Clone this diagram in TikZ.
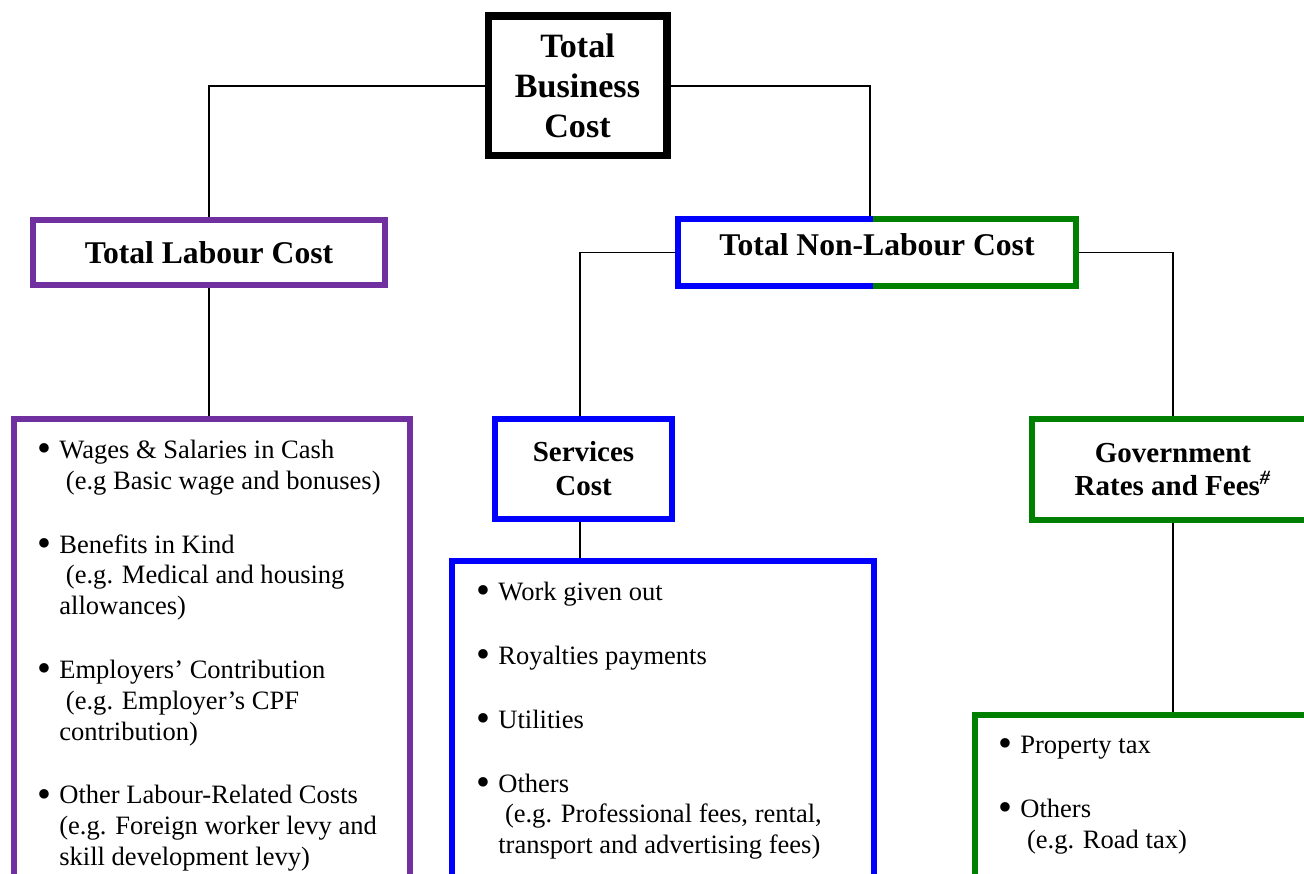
\documentclass[tikz,border=0pt]{standalone}
\usepackage{fontspec}
\usepackage{graphicx}
\setmainfont{Liberation Serif}
\usetikzlibrary{positioning}
\definecolor{labour}{RGB}{112,48,160}
\definecolor{serv}{RGB}{0,0,255}
\definecolor{govt}{RGB}{0,128,0}
\newcommand{\bul}{\makebox[12.3pt][l]{\raisebox{-0.13em}{\scalebox{1.5}{\textbullet}}}}
\newcommand{\ind}{\hspace*{12.3pt}}

\begin{document}
\begin{tikzpicture}[
	x=0.02cm,y=-0.02cm,
	topbox/.style={
		draw,
		line width=4pt,
		align=center,
		font=\fontsize{19.4}{22.8}\selectfont\bfseries
	},
	head/.style={
		draw=#1,
		line width=3.3pt,
		align=center,
		font=\fontsize{18}{21}\selectfont\bfseries
	},
	subhead/.style={
		draw=#1,
		line width=3.3pt,
		align=center,
		font=\fontsize{16.5}{19.3}\selectfont\bfseries
	},
	listbox/.style={
		draw=#1,
		line width=3.3pt
	},
	items/.style={
		anchor=north west,
		inner sep=0pt,
		align=left,
		font=\fontsize{15.1}{17.5}\selectfont
	},
	link/.style={
		line width=0.9pt
	}
	]
	\useasboundingbox (0,0) rectangle (1304,874);
	\clip (0,0) rectangle (1304,874);

	% top level
	\node[topbox,minimum width=3.58cm,minimum height=2.8cm,text depth=-4.6pt] at (577.5,86)
	(tbc) {Total\\Business\\Cost};

	% second level
	\node[head=labour,minimum width=7.04cm,minimum height=1.3cm] at (209,252.5)
	(tlc) {Total Labour Cost};
	\node[head=none,outer sep=0pt,line width=3.3pt,text depth=9pt,
		minimum width=7.96cm,minimum height=1.34cm] at (877,252.5)
	(tnl) {Total Non-Labour Cost};
	\coordinate (split) at (873,0);
	\coordinate (tnlin) at (870,0);
	\coordinate (scin) at (580,0);

	% third level
	\node[subhead=serv,minimum width=3.54cm,minimum height=2cm] at (583.5,469)
	(sc) {Services\\Cost};
	\node[subhead=govt,minimum width=5.64cm,minimum height=2.02cm] at (1173,469.5)
	(grf) {Government\\Rates and Fees\textsuperscript{\textit{\#}}};

	% lists
	\node[listbox=labour,minimum width=7.92cm,minimum height=13.62cm] at (212,759.5)
	(ll) {};
	\node[listbox=serv,minimum width=8.44cm,minimum height=10.78cm] at (663,830.5)
	(sl) {};
	\node[listbox=govt,minimum width=7.88cm,minimum height=7.7cm] at (1172,907.5)
	(gl) {};

	\node[items] at (37.4,436.5) (lltext) {%
		\strut\bul Wages \& Salaries in Cash\\
		\ind\ (e.g Basic wage and bonuses)\\[18.9pt]
		\bul Benefits in Kind\\
		\ind\ (e.g. Medical and housing\\
		\ind allowances)\\[18.9pt]
		\bul Employers' Contribution\\
		\ind\ (e.g. Employer's CPF\\
		\ind contribution)\\[18.9pt]
		\bul Other Labour-Related Costs\\
		\ind (e.g. Foreign worker levy and\\
		\ind skill development levy)};
	\node[items] at (476.4,578.5) (sltext) {%
		\strut\bul Work given out\\[18.9pt]
		\bul Royalties payments\\[18.9pt]
		\bul Utilities\\[18.9pt]
		\bul Others\\
		\ind\ (e.g. Professional fees, rental,\\
		\ind transport and advertising fees)};
	\node[items] at (998.4,731.5) (gltext) {%
		\strut\bul Property tax\\[18.9pt]
		\bul Others\\
		\ind\ (e.g. Road tax)};

	% connectors
	\draw[link] (tbc.west) -| (tlc.north);
	\draw[link] (tbc.east) -| (tnl.north -| tnlin);
	\draw[link] (tnl.west) -| (sc.north -| scin);
	\draw[link] (tnl.east) -| (grf.north);
	\draw[link] (tlc.south) -- (tlc.south |- ll.north);
	\draw[link] (sc.south -| scin) -- (sl.north -| scin);
	\draw[link] (grf.south) -- (grf.south |- gl.north);

	% two coloured border
	\draw[serv,line width=3.3pt] (tnl.north -| split) -- (tnl.north west)
		-- (tnl.south west) -- (tnl.south -| split);
	\draw[govt,line width=3.3pt] (tnl.north -| split) -- (tnl.north east)
		-- (tnl.south east) -- (tnl.south -| split);
\end{tikzpicture}
\end{document}
